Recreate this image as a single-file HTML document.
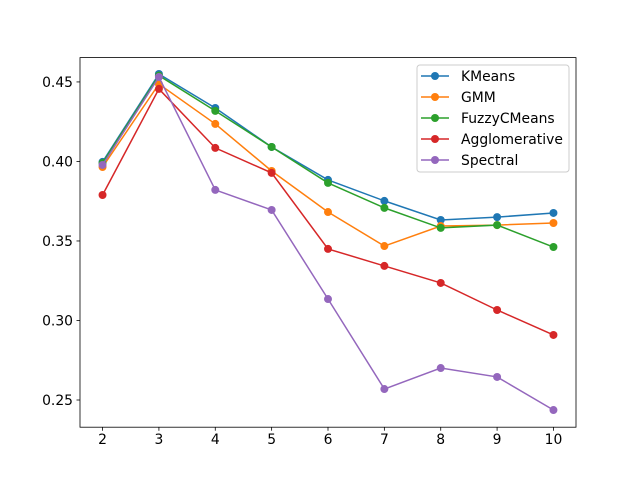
<!DOCTYPE html>
<html><head><meta charset="utf-8"><style>
html,body{margin:0;padding:0;background:#fff;}
svg{display:block;font-family:"DejaVu Sans","Liberation Sans",sans-serif;}
</style></head><body>
<svg id="chart" width="640" height="480" viewBox="0 0 640 480" xmlns="http://www.w3.org/2000/svg">
<rect width="640" height="480" fill="#fff"/>
<g id="plot"></g>
</svg>
<script>
const categories = [2,3,4,5,6,7,8,9,10];
const seriesNames = ["KMeans","GMM","FuzzyCMeans","Agglomerative","Spectral"];
const kmeans = [0.3997,0.4550,0.4336,0.4091,0.3884,0.3752,0.3632,0.3650,0.3676];
const gmm = [0.3965,0.4487,0.4236,0.3940,0.3682,0.3468,0.3594,0.3600,0.3613];
const fuzzy = [0.3990,0.4540,0.4318,0.4091,0.3865,0.3708,0.3582,0.3600,0.3462];
const agglo = [0.3789,0.4456,0.4085,0.3928,0.3450,0.3343,0.3236,0.3066,0.2909];
const spectral = [0.3978,0.4531,0.3821,0.3695,0.3135,0.2569,0.2701,0.2645,0.2437];
const colors = ["#1f77b4","#ff7f0e","#2ca02c","#d62728","#9467bd"];
const yTicks = [0.25,0.30,0.35,0.40,0.45];
const yTickLabels = ["0.25","0.30","0.35","0.40","0.45"];
const xTicks = [2,3,4,5,6,7,8,9,10];

const L=80,R=576,T=57.6,B=427.2;
const xMin=1.6,xMax=10.4,yMin=0.2329,yMax=0.4653;
const sx=v=>L+(v-xMin)/(xMax-xMin)*(R-L);
const sy=v=>B-(v-yMin)/(yMax-yMin)*(B-T);
const NS="http://www.w3.org/2000/svg";
const g=document.getElementById('plot');
function mk(tag,attrs,parent){const e=document.createElementNS(NS,tag);for(const k in attrs)e.setAttribute(k,attrs[k]);(parent||g).appendChild(e);return e;}

const allSeries=[kmeans,gmm,fuzzy,agglo,spectral];
allSeries.forEach((vals,si)=>{
  const sg=mk('g',{});
  
  
  const pts=vals.map((v,i)=>sx(categories[i])+','+sy(v)).join(' ');
  const pl=mk('polyline',{points:pts,fill:'none',stroke:colors[si],'stroke-width':1.5},sg);
  
  
  vals.forEach((v,i)=>{
    const c=mk('circle',{cx:sx(categories[i]),cy:sy(v),r:4,fill:colors[si]},sg);
    
    
  });
});

const frame=mk('rect',{x:L,y:T,width:R-L,height:B-T,fill:'none',stroke:'#000','stroke-width':0.8});



xTicks.forEach(t=>{
  const x=sx(t);
  const tk=mk('line',{x1:x,x2:x,y1:B,y2:B+3.5,stroke:'#000','stroke-width':0.8});
  
  
  const tx=mk('text',{x:x,y:B+17,'text-anchor':'middle','font-size':'13.9px',fill:'#000'});
  tx.textContent=t;
  
  
});
yTicks.forEach((t,i)=>{
  const y=sy(t);
  const tk=mk('line',{x1:L-3.5,x2:L,y1:y,y2:y,stroke:'#000','stroke-width':0.8});
  
  
  const tx=mk('text',{x:L-7,y:y+5,'text-anchor':'end','font-size':'13.9px',fill:'#000'});
  tx.textContent=yTickLabels[i];
  
  
});

const lg=mk('g',{});


const lb=mk('rect',{x:417,y:65,width:152,height:107,rx:3,fill:'#fff','fill-opacity':0.8,stroke:'#ccc','stroke-width':1},lg);


seriesNames.forEach((n,i)=>{
  const y=76+i*21;
  const eg=mk('g',{},lg);
  
  
  mk('line',{x1:421,x2:449,y1:y,y2:y,stroke:colors[i],'stroke-width':1.5},eg);
  mk('circle',{cx:435,cy:y,r:4,fill:colors[i]},eg);
  const t=mk('text',{x:461,y:y+5,'font-size':'13.9px',fill:'#000'},eg);
  t.textContent=n;
});
</script>
</body></html>
